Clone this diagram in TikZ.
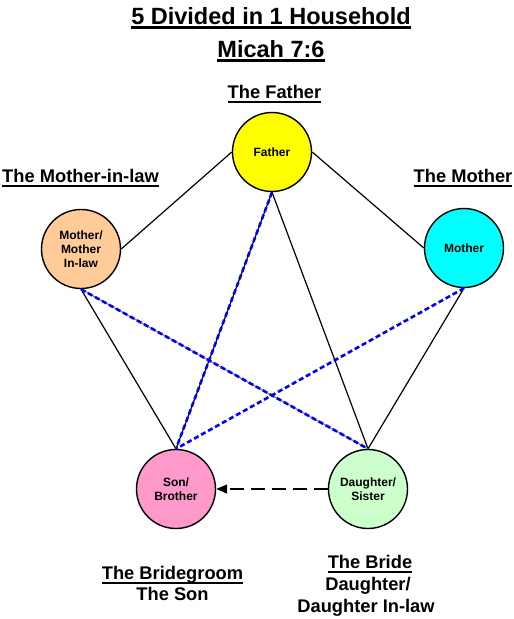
\documentclass[tikz,border=0pt]{standalone}
\usepackage{fontspec}
\setmainfont{Liberation Sans}
\usetikzlibrary{arrows.meta}
\definecolor{peach}{HTML}{FFCC99}
\definecolor{pinkc}{HTML}{FF99CC}
\definecolor{mintc}{HTML}{CCFFCC}
\definecolor{yellowc}{HTML}{FFFF00}
\definecolor{cyanc}{HTML}{00FFFF}
\definecolor{bluec}{HTML}{0000FF}
\tikzset{
  person/.style={circle, draw=black, line width=1.4pt, minimum size=79pt, inner sep=0pt,
    align=center, font=\fontsize{12pt}{14pt}\selectfont\bfseries},
  heading/.style={font=\fontsize{18.3pt}{21.5pt}\selectfont\bfseries, align=center, inner sep=0pt, anchor=base},
  titletext/.style={font=\fontsize{23.5pt}{33pt}\selectfont\bfseries, align=center, inner sep=0pt, anchor=base},
  solidlink/.style={draw=black, line width=1.2pt},
  bluelink/.style={draw=bluec, line width=2.6pt, dash pattern=on 5pt off 3pt},
  arrowlink/.style={draw=black, line width=1.3pt, dash pattern=on 14pt off 7pt, -{Triangle[length=11pt,width=9pt]}}
}
\newcommand{\ulh}[1]{{\setbox0\hbox{#1}\rlap{\rule[-4.5pt]{\wd0}{2pt}}\box0}}
\newcommand{\ult}[1]{{\setbox0\hbox{#1}\rlap{\rule[-5pt]{\wd0}{2.6pt}}\box0}}
\begin{document}
\begin{tikzpicture}[x=1pt,y=-1pt]
\useasboundingbox (0,0) rectangle (514,619);
% titles
\node[titletext] (t1) at (271,24) {\ult{5 Divided in 1 Household}};
\node[titletext] (t2) at (271,57) {\ult{Micah 7:6}};
% headings
\node[heading] (hf) at (274.5,98) {\ulh{The Father}};
\node[heading] (hmil) at (80.5,182) {\ulh{The Mother-in-law}};
\node[heading] (hm) at (463,182) {\ulh{The Mother}};
\node[heading] (hbg) at (172.5,579) {\ulh{The Bridegroom}};
\node[heading] (hson) at (172.5,600) {The Son};
\node[heading] (hb) at (370,568) {\ulh{The Bride}};
\node[heading] (hd1) at (368,590) {Daughter/};
\node[heading] (hd2) at (366,612) {Daughter In-law};
% persons
\node[person, fill=yellowc] (F) at (272,152) {Father};
\node[person, fill=cyanc] (M) at (464,248) {Mother};
\node[person, fill=peach] (MIL) at (81,249) {Mother/\\Mother\\In-law};
\node[person, fill=pinkc] (S) at (176,489) {Son/\\Brother};
\node[person, fill=mintc] (D) at (368,489) {Daughter/\\Sister};
% connectors
\draw[solidlink] (F.west) -- (MIL.east);
\draw[solidlink] (F.east) -- (M.west);
\draw[solidlink] (F.south) -- (D.north);
\draw[solidlink] (MIL.south) -- (S.north);
\draw[solidlink] (M.south) -- (D.north);
\draw[solidlink] (F.south) -- (S.north);
\draw[draw=gray, line width=1.2pt] (MIL.south) -- (D.north);
\draw[bluelink] (F.south) -- (S.north);
\draw[bluelink] (MIL.south) -- (D.north);
\draw[bluelink] (M.south) -- (S.north);
\draw[arrowlink] (D.west) -- (S.east);
\end{tikzpicture}
\end{document}
